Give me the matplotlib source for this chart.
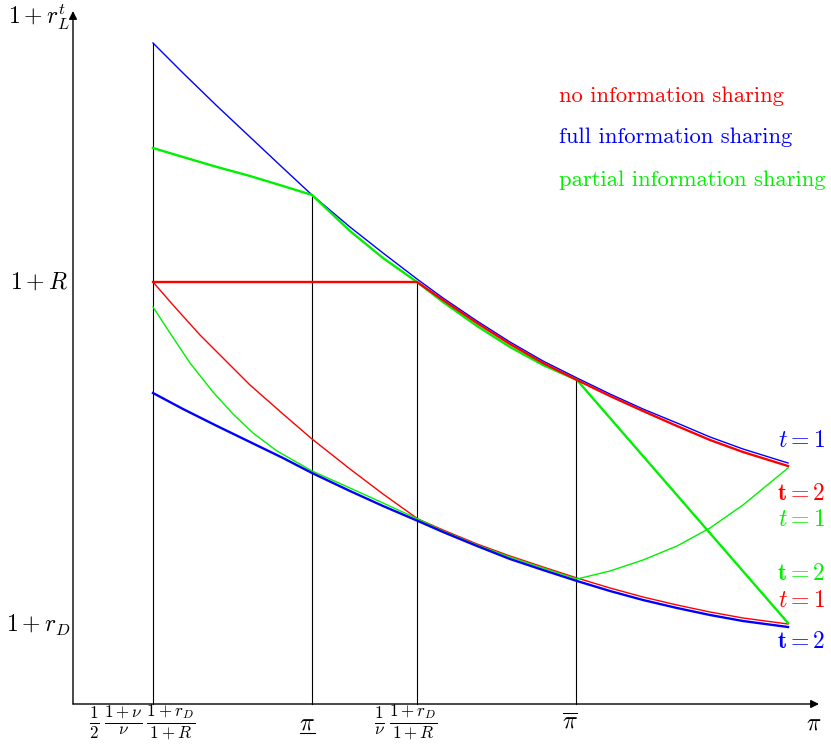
import matplotlib
matplotlib.use("Agg")
from matplotlib import pyplot as plt

plt.rcParams['mathtext.fontset'] = 'cm'

# key positions on the pi axis (abstract units)
x_ticks = [0.80, 2.39, 3.44, 5.03]
x_ticklabels = [r'$\frac{1}{2}\,\frac{1+\nu}{\nu}\,\frac{1+r_D}{1+R}$', r'$\pi$',
                r'$\frac{1}{\nu}\,\frac{1+r_D}{1+R}$', r'$\overline{\pi}$']
x_label_pos = [0.69, 2.34, 3.33, 4.97]
vline_tops = [6.61, 5.09, 4.22, 3.24]
y_R = 4.22
y_rD = 0.79

# full information sharing (blue)
blue_t1_x = [0.80, 1.10, 1.44, 1.77, 2.10, 2.39, 2.77, 3.10, 3.44, 3.70, 4.04, 4.37, 4.70,
             5.04, 5.37, 5.70, 6.04, 6.37, 6.70, 7.15]
blue_t1_y = [6.61, 6.31, 5.98, 5.67, 5.36, 5.09, 4.77, 4.51, 4.25, 4.06, 3.83, 3.62, 3.43,
             3.26, 3.10, 2.95, 2.81, 2.67, 2.55, 2.41]
blue_t2_x = [0.80, 1.10, 1.44, 1.77, 2.10, 2.39, 2.77, 3.10, 3.45, 3.70, 4.04, 4.37, 4.70,
             5.04, 5.37, 5.70, 6.04, 6.37, 6.70, 7.15]
blue_t2_y = [3.11, 2.95, 2.78, 2.62, 2.46, 2.31, 2.13, 1.98, 1.83, 1.72, 1.58, 1.45, 1.34,
             1.23, 1.13, 1.04, 0.96, 0.89, 0.83, 0.77]

# no information sharing (red)
red_t2_x = [0.80, 3.44, 3.70, 4.04, 4.37, 4.70, 5.04, 5.37, 5.70, 6.04, 6.37, 6.70, 7.15]
red_t2_y = [4.22, 4.22, 4.04, 3.81, 3.60, 3.41, 3.24, 3.08, 2.93, 2.78, 2.64, 2.52, 2.38]
red_t1_x = [0.80, 1.00, 1.27, 1.54, 1.77, 2.10, 2.39, 2.77, 3.10, 3.45, 3.70, 4.04, 4.37,
            4.70, 5.04, 5.37, 5.70, 6.04, 6.37, 6.70, 7.15]
red_t1_y = [4.22, 3.99, 3.69, 3.42, 3.19, 2.90, 2.65, 2.35, 2.10, 1.85, 1.74, 1.60, 1.48,
            1.37, 1.26, 1.16, 1.07, 0.99, 0.92, 0.86, 0.80]

# partial information sharing (green)
green_t2_x = [0.80, 1.10, 1.44, 1.77, 2.10, 2.39, 2.77, 3.10, 3.44, 3.70, 4.04, 4.37, 4.70,
              5.04, 7.15]
green_t2_y = [5.56, 5.47, 5.37, 5.28, 5.18, 5.09, 4.73, 4.46, 4.22, 4.02, 3.78, 3.57, 3.39,
              3.24, 0.81]
green_t1_x = [0.80, 0.97, 1.17, 1.40, 1.60, 1.80, 2.04, 2.39, 2.77, 3.10, 3.45, 3.70, 4.04,
              4.37, 4.70, 5.04, 5.37, 5.70, 6.04, 6.37, 6.70, 7.15]
green_t1_y = [3.97, 3.71, 3.41, 3.12, 2.90, 2.71, 2.53, 2.33, 2.16, 2.01, 1.85, 1.73, 1.59,
              1.47, 1.36, 1.25, 1.33, 1.44, 1.58, 1.76, 1.99, 2.36]

RED = '#ff0000'
BLUE = '#0000ff'
GREEN = '#00f000'

fig = plt.figure(figsize=(8.31, 7.44), dpi=100)
ax = fig.add_axes([0, 0, 1, 1])
ax.set_xlim(-0.73, 7.58)
ax.set_ylim(-0.40, 7.04)
ax.axis('off')

# axes with arrows
ax.annotate('', xy=(7.46, 0), xytext=(0, 0),
            arrowprops=dict(arrowstyle='-|>', color='black', lw=1.0, mutation_scale=12, shrinkA=0, shrinkB=0))
ax.annotate('', xy=(0, 6.93), xytext=(0, 0),
            arrowprops=dict(arrowstyle='-|>', color='black', lw=1.0, mutation_scale=12, shrinkA=0, shrinkB=0))

# vertical guides
for xv, top in zip(x_ticks, vline_tops):
    ax.plot([xv, xv], [0, top], color='black', lw=0.8)

# curves
ax.plot(blue_t1_x, blue_t1_y, color=BLUE, lw=1.0)
ax.plot(red_t1_x, red_t1_y, color=RED, lw=1.0)
ax.plot(green_t1_x, green_t1_y, color=GREEN, lw=1.0)
ax.plot(green_t2_x, green_t2_y, color=GREEN, lw=1.7)
ax.plot(red_t2_x, red_t2_y, color=RED, lw=1.7)
ax.plot(blue_t2_x, blue_t2_y, color=BLUE, lw=1.7)

# axis labels
ax.text(-0.03, 6.87, r'$1+r_L^t$', ha='right', va='center', fontsize=17)
ax.text(-0.05, y_R, r'$1+R$', ha='right', va='center', fontsize=17)
ax.text(-0.03, y_rD, r'$1+r_D$', ha='right', va='center', fontsize=17)
for xl, lab in zip(x_label_pos, x_ticklabels):
    ax.text(xl, -0.18, lab, ha='center', va='center', fontsize=17.5)
# underline for the lower threshold (mathtext has no \underline)
ax.plot([2.27, 2.42], [-0.29, -0.29], color='black', lw=0.8)
ax.text(7.41, -0.18, r'$\pi$', ha='center', va='center', fontsize=17)

# legend text
ax.text(4.86, 6.08, 'no information sharing', color=RED, fontsize=16.3, family='cmr10', va='center')
ax.text(4.86, 5.67, 'full information sharing', color=BLUE, fontsize=16.3, family='cmr10', va='center')
ax.text(4.86, 5.24, 'partial information sharing', color=GREEN, fontsize=16.3, family='cmr10', va='center')

# curve tags
ax.text(7.52, 2.64, r'$t=1$', color=BLUE, ha='right', va='center', fontsize=17)
ax.text(7.52, 2.11, r'$\mathbf{t=2}$', color=RED, ha='right', va='center', fontsize=17)
ax.text(7.52, 1.85, r'$t=1$', color=GREEN, ha='right', va='center', fontsize=17)
ax.text(7.52, 1.31, r'$\mathbf{t=2}$', color=GREEN, ha='right', va='center', fontsize=17)
ax.text(7.52, 1.04, r'$t=1$', color=RED, ha='right', va='center', fontsize=17)
ax.text(7.52, 0.63, r'$\mathbf{t=2}$', color=BLUE, ha='right', va='center', fontsize=17)

fig.savefig('out.png', dpi=100)
